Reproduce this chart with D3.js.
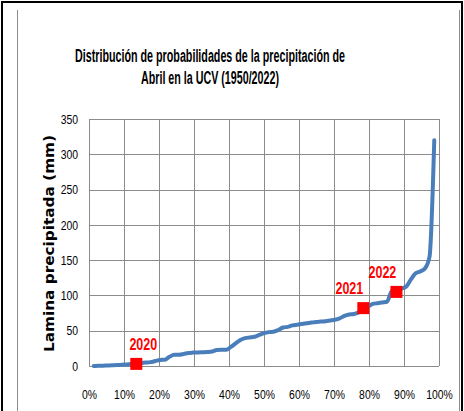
<!DOCTYPE html>
<html>
<head>
<meta charset="utf-8">
<script src="https://cdn.jsdelivr.net/npm/d3@7"></script>
<style>
  html, body { margin: 0; padding: 0; background: #fff; }
  svg { display: block; }
</style>
</head>
<body>
<div id="chart"></div>
<script>
// sorted April rainfall (mm), ranks 1..73
const precip = [
  0, 0.3, 0.5, 0.8, 1.0, 1.3, 1.8, 2.2, 2.8, 3.5,
  4.2, 4.8, 5.5, 7, 8.5, 9, 13, 16, 16, 17,
  18.5, 19, 19.2, 19.5, 19.8, 20.5, 22.7, 23, 23, 27,
  32, 37, 39.5, 40.5, 41.5, 44, 46.5, 48, 48.5, 51,
  54.5, 55.5, 57.5, 58.5, 59.5, 60.5, 61.5, 62.5, 63, 63.5,
  64.5, 65.5, 67.5, 71, 73, 73.7, 76, 80, 84, 88,
  89, 90, 91, 106, 108, 109.5, 112, 122, 131, 134,
  138, 155, 320
];
const highlightYears = ['2020', '2021', '2022'];
const highlightRank = [10, 58, 65];
const highlightValue = [3, 82, 105];
const xTicks = [0, 0.1, 0.2, 0.3, 0.4, 0.5, 0.6, 0.7, 0.8, 0.9, 1];
const yTicks = [0, 50, 100, 150, 200, 250, 300, 350];
const titleLines = ['Distribución de probabilidades de la precipitación de', 'Abril en la UCV (1950/2022)'];
const yTitle = 'Lamina precipitada (mm)';

const W = 464, H = 411;
const font = '"Liberation Sans", Arial, sans-serif';
const n = precip.length;
const prob = i => i / (n + 1);

// no narrow face installed, so squeeze the text a bit
function squeeze(sel, k) {
  sel.each(function () {
    const len = this.getComputedTextLength();
    d3.select(this).attr('textLength', len * k).attr('lengthAdjust', 'spacingAndGlyphs');
  });
}

const svg = d3.select('#chart').append('svg')
  .attr('width', W)
  .attr('height', H);

// outer frame
svg.append('rect').attr('x', 1).attr('y', 1).attr('width', 2).attr('height', H).attr('fill', '#000');
svg.append('rect').attr('x', 1).attr('y', 1).attr('width', 462).attr('height', 2).attr('fill', '#000');
svg.append('rect').attr('x', 461).attr('y', 1).attr('width', 2).attr('height', H).attr('fill', '#000');
svg.append('line').attr('x1', 17.5).attr('x2', 17.5).attr('y1', 10).attr('y2', H).attr('stroke', '#8c8c8c');
svg.append('line').attr('x1', 459.5).attr('x2', 459.5).attr('y1', 10).attr('y2', H).attr('stroke', '#8c8c8c');

const x = d3.scaleLinear().domain([0, 1]).range([89, 439]);
const y = d3.scaleLinear().domain([0, 350]).range([366, 119]);

// grid
svg.append('g')
  .selectAll('line')
  .data(xTicks)
  .enter().append('line')
  .attr('x1', d => Math.round(x(d)) + 0.5)
  .attr('x2', d => Math.round(x(d)) + 0.5)
  .attr('y1', y(350))
  .attr('y2', y(0))
  .attr('stroke', '#8c8c8c');

svg.append('g')
  .selectAll('line')
  .data(yTicks)
  .enter().append('line')
  .attr('x1', x(0))
  .attr('x2', x(1))
  .attr('y1', d => Math.round(y(d)) + 0.5)
  .attr('y2', d => Math.round(y(d)) + 0.5)
  .attr('stroke', '#8c8c8c');

// axes
const xAxis = svg.append('g')
  .attr('transform', `translate(0,${y(0)})`)
  .call(d3.axisBottom(x).tickValues(xTicks).tickFormat(d3.format('.0%')).tickSize(0).tickPadding(24));
xAxis.select('.domain').remove();
xAxis.selectAll('text')
  .attr('font-family', font)
  .attr('font-size', 13)
  .attr('fill', '#000')
  .call(squeeze, 0.8);

const yAxis = svg.append('g')
  .attr('transform', `translate(${x(0)},0)`)
  .call(d3.axisLeft(y).tickValues(yTicks).tickSize(0).tickPadding(11));
yAxis.select('.domain').remove();
yAxis.selectAll('text')
  .attr('font-family', font)
  .attr('font-size', 13)
  .attr('fill', '#000')
  .call(squeeze, 0.8);

// title
svg.append('g')
  .selectAll('text')
  .data(titleLines)
  .enter().append('text')
  .attr('x', 210)
  .attr('y', (d, i) => 62 + i * 22)
  .attr('text-anchor', 'middle')
  .attr('font-family', font)
  .attr('font-weight', 'bold')
  .attr('font-size', 18)
  .attr('textLength', (d, i) => i === 0 ? 270 : 138)
  .attr('lengthAdjust', 'spacingAndGlyphs')
  .text(d => d);

svg.append('text')
  .attr('transform', 'translate(54,243.5) rotate(-90)')
  .attr('text-anchor', 'middle')
  .attr('font-family', '"DejaVu Sans", Verdana, sans-serif')
  .attr('font-weight', 'bold')
  .attr('font-size', 13.5)
  .attr('textLength', 217)
  .attr('lengthAdjust', 'spacingAndGlyphs')
  .text(yTitle);

// distribution line
const line = d3.line()
  .x((d, i) => x(prob(i + 1)))
  .y(d => y(d))
  .curve(d3.curveMonotoneX);

svg.append('path')
  .datum(precip)
  .attr('d', line)
  .attr('fill', 'none')
  .attr('stroke', '#4a7ebb')
  .attr('stroke-width', 4)
  .attr('stroke-linejoin', 'round')
  .attr('stroke-linecap', 'round');

// highlighted years
const marks = svg.append('g')
  .selectAll('g')
  .data(highlightYears)
  .enter().append('g');

marks.append('rect')
  .attr('x', (d, i) => x(prob(highlightRank[i])) - 6)
  .attr('y', (d, i) => y(highlightValue[i]) - 6)
  .attr('width', 12)
  .attr('height', 12)
  .attr('fill', '#ff0000');

marks.append('text')
  .attr('x', (d, i) => x(prob(highlightRank[i])) + (i === 0 ? 7 : -14))
  .attr('y', (d, i) => y(highlightValue[i]) - 14)
  .attr('text-anchor', 'middle')
  .attr('font-family', font)
  .attr('font-weight', 'bold')
  .attr('font-size', 16)
  .attr('fill', '#ff0000')
  .text(d => d)
  .call(squeeze, 0.78);
</script>
</body>
</html>
